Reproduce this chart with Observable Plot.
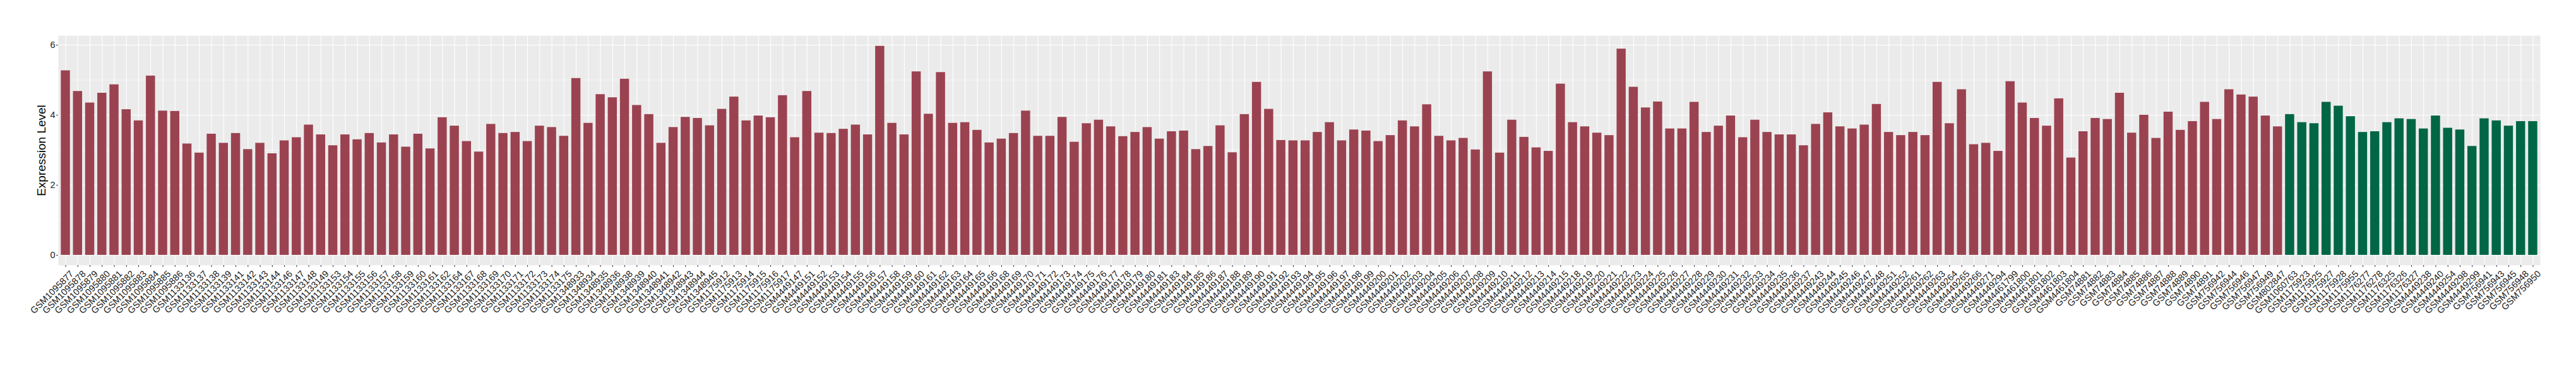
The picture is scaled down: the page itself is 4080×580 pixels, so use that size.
<!DOCTYPE html>
<html>
<head>
<meta charset="utf-8">
<script src="https://cdn.jsdelivr.net/npm/d3@7"></script>
<script src="https://cdn.jsdelivr.net/npm/@observablehq/plot@0.6"></script>
<style>
  html, body { margin: 0; padding: 0; background: #fff; }
  #chart { width: 4080px; height: 580px; }
</style>
</head>
<body>
<div id="chart"></div>
<script>
const redSamples = [
  "GSM1095877","GSM1095878","GSM1095879","GSM1095880","GSM1095881","GSM1095882","GSM1095883","GSM1095884","GSM1095885","GSM1095886",
  "GSM1133136","GSM1133137","GSM1133138","GSM1133139","GSM1133141","GSM1133142","GSM1133143","GSM1133144","GSM1133146","GSM1133147",
  "GSM1133148","GSM1133149","GSM1133153","GSM1133154","GSM1133155","GSM1133156","GSM1133157","GSM1133158","GSM1133159","GSM1133160","GSM1133161",
  "GSM1133162","GSM1133164","GSM1133167","GSM1133168","GSM1133169","GSM1133170","GSM1133171","GSM1133172","GSM1133173","GSM1133174","GSM1133175",
  "GSM1348933","GSM1348934","GSM1348935","GSM1348936","GSM1348938","GSM1348939","GSM1348940","GSM1348941","GSM1348942","GSM1348943","GSM1348944","GSM1348945",
  "GSM1175912","GSM1175913","GSM1175914","GSM1175915","GSM1175916","GSM1175917",
  "GSM4449147","GSM4449151","GSM4449152","GSM4449153","GSM4449154","GSM4449155","GSM4449156",
  "GSM4449157","GSM4449158","GSM4449159","GSM4449160","GSM4449161","GSM4449162","GSM4449163","GSM4449164","GSM4449165","GSM4449166","GSM4449168","GSM4449169","GSM4449170","GSM4449171","GSM4449172","GSM4449173","GSM4449174","GSM4449175",
  "GSM4449176","GSM4449177","GSM4449178","GSM4449179","GSM4449180","GSM4449181","GSM4449183","GSM4449184","GSM4449185","GSM4449186","GSM4449187","GSM4449188","GSM4449189","GSM4449190","GSM4449191","GSM4449192","GSM4449193",
  "GSM4449194","GSM4449195","GSM4449196","GSM4449197","GSM4449198","GSM4449199","GSM4449200","GSM4449201","GSM4449202","GSM4449203","GSM4449204","GSM4449205","GSM4449206","GSM4449207","GSM4449208","GSM4449209","GSM4449210","GSM4449211",
  "GSM4449212","GSM4449213","GSM4449214","GSM4449215","GSM4449218","GSM4449219","GSM4449220","GSM4449221","GSM4449222","GSM4449223","GSM4449224","GSM4449225","GSM4449226","GSM4449227","GSM4449228","GSM4449229","GSM4449230","GSM4449231",
  "GSM4449232","GSM4449233","GSM4449234","GSM4449235","GSM4449236","GSM4449237","GSM4449243","GSM4449244","GSM4449245","GSM4449246","GSM4449247","GSM4449248","GSM4449251","GSM4449252","GSM4449261","GSM4449262","GSM4449263",
  "GSM4449264","GSM4449265","GSM4449266","GSM4449271","GSM4449294","GSM4461799","GSM4461800","GSM4461801","GSM4461802","GSM4461803","GSM4461804",
  "GSM74881","GSM74882","GSM74883","GSM74884","GSM74885","GSM74886","GSM74887","GSM74888","GSM74889","GSM74890","GSM74891",
  "GSM756942","GSM756944","GSM756946","GSM756947","GSM756949","GSM802847"
];
const redValues = [
  5.27,4.68,4.35,4.63,4.87,4.16,3.84,5.12,4.12,4.11,
  3.18,2.92,3.46,3.20,3.48,3.02,3.20,2.90,3.27,3.36,
  3.72,3.44,3.13,3.44,3.30,3.48,3.21,3.44,3.09,3.46,3.04,
  3.93,3.69,3.25,2.95,3.74,3.48,3.51,3.25,3.69,3.65,3.40,
  5.05,3.77,4.59,4.50,5.03,4.28,4.02,3.20,3.65,3.94,3.91,3.70,
  4.17,4.52,3.84,3.98,3.93,4.56,
  3.36,4.68,3.49,3.48,3.60,3.72,3.44,
  5.97,3.77,3.44,5.24,4.03,5.22,3.77,3.79,3.57,3.21,3.32,3.48,4.12,3.40,3.40,3.94,3.23,3.76,
  3.86,3.67,3.39,3.51,3.65,3.32,3.53,3.55,3.02,3.11,3.70,2.93,4.02,4.94,4.17,3.28,3.27,
  3.27,3.51,3.79,3.27,3.58,3.55,3.25,3.42,3.84,3.67,4.30,3.40,3.27,3.34,3.01,5.24,2.92,3.86,
  3.37,3.07,2.97,4.89,3.79,3.67,3.49,3.42,5.89,4.80,4.21,4.38,3.61,3.61,4.37,3.51,3.69,3.98,
  3.36,3.86,3.51,3.44,3.44,3.13,3.74,4.07,3.67,3.61,3.72,4.31,3.51,3.42,3.51,3.42,4.94,
  3.76,4.73,3.16,3.20,2.97,4.96,4.35,3.91,3.69,4.47,2.78,
  3.53,3.91,3.88,4.63,3.49,4.00,3.34,4.09,3.57,3.82,4.37,
  3.88,4.73,4.58,4.52,3.98,3.67
];
const greenSamples = [
  "GSM1060763","GSM1175923","GSM1175925","GSM1175927","GSM1175928","GSM1175955","GSM1176277","GSM1176278",
  "GSM1176325","GSM1176326","GSM1176327","GSM4449238","GSM4449240","GSM4449254","GSM4449298","GSM4449299",
  "GSM756941","GSM756943","GSM756945","GSM756948","GSM756950"
];
const greenValues = [
  4.02,3.79,3.76,4.37,4.26,3.96,3.51,3.53,
  3.79,3.90,3.88,3.61,3.98,3.63,3.58,3.11,
  3.90,3.84,3.69,3.82,3.82
];
const groupNames = ["Group A", "Group B"];
const groupColors = ["#9B4250", "#006645"];
const yTicks = [0, 2, 4, 6];
const yMinor = [1, 3, 5];
const yLabel = "Expression Level";

const data = [
  ...redSamples.map((s, i) => ({sample: s, value: redValues[i], group: groupNames[0]})),
  ...greenSamples.map((s, i) => ({sample: s, value: greenValues[i], group: groupNames[1]}))
];
const samples = data.map(d => d.sample);

const font = "'Liberation Sans', Arial, Helvetica, sans-serif";

const chart = Plot.plot({
  width: 4080,
  height: 580,
  marginLeft: 92,
  marginRight: 57,
  marginTop: 56,
  marginBottom: 160,
  style: {fontFamily: font, fontSize: "14.5px", background: "#fff", overflow: "visible"},
  x: {type: "band", domain: samples, paddingInner: 0.25, paddingOuter: 0.225},
  y: {domain: [-0.29, 6.27]},
  color: {type: "ordinal", domain: groupNames, range: groupColors},
  marks: [
    Plot.frame({fill: "#EBEBEB", stroke: "none"}),
    Plot.ruleY(yMinor, {stroke: "#fff", strokeWidth: 0.55}),
    Plot.ruleY(yTicks, {stroke: "#fff", strokeWidth: 1.1}),
    Plot.gridX({stroke: "#fff", strokeOpacity: 1, strokeWidth: 1.1}),
    Plot.barY(data, {x: "sample", y: "value", fill: "group"}),
    Plot.axisY({ticks: yTicks, tickFormat: "d", tickSize: 3, tickPadding: 2, fontSize: 14.5, label: null, stroke: "#333", fill: "#222"}),
    Plot.axisX({tickSize: 3, tickFormat: () => "", label: null, stroke: "#333"}),
    Plot.text(data, {x: "sample", text: "sample", frameAnchor: "bottom", rotate: -45, textAnchor: "end", lineAnchor: "top", dx: 6, dy: 7, fontSize: 14.5, fill: "#222"}),
    Plot.text([yLabel], {frameAnchor: "left", rotate: -90, dx: -27, fontSize: 19, fill: "#000", textAnchor: "middle"})
  ]
});
document.getElementById("chart").appendChild(chart);
</script>
</body>
</html>
